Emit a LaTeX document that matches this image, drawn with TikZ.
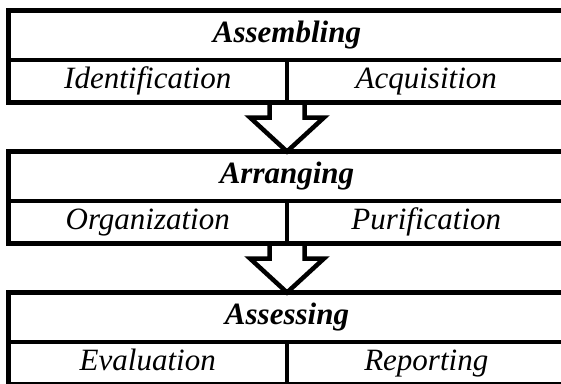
\documentclass[tikz,border=0pt]{standalone}
\usepackage{fontspec}
\setmainfont{Liberation Serif}
\usepackage{tikz}
\usetikzlibrary{positioning,calc}

\begin{document}
\begin{tikzpicture}[x=1pt, y=1pt, line width=4.5pt]
	\tikzset{
		headbox/.style={
			shape=rectangle,
			draw=black,
			outer sep=0pt,
			inner sep=0pt,
			text height=20.5pt,
			text depth=6.5pt,
			minimum width=557pt,
			minimum height=49.5pt,
			font=\fontsize{31}{36}\selectfont\bfseries\itshape
		},
		cellbox/.style={
			shape=rectangle,
			draw=black,
			outer sep=0pt,
			inner sep=0pt,
			text height=20.5pt,
			text depth=6.5pt,
			minimum width=278.5pt,
			minimum height=42.5pt,
			font=\fontsize{31}{36}\selectfont\itshape
		},
		hollowarrow/.style={draw=black, line width=4.5pt, line join=miter}
	}
	\useasboundingbox (0,0) rectangle (561,-383);
	
	% first block
	\node[headbox, anchor=north west] (asm) at (8.5,-10.5) {Assembling};
	\node[cellbox, below=0pt of asm.south west, anchor=north west] (idf) {Identification};
	\node[cellbox, below=0pt of asm.south east, anchor=north east] (acq) {Acquisition};
	
	% second block
	\node[headbox, below=49pt of idf.south west, anchor=north west] (arrg) {Arranging};
	\node[cellbox, below=0pt of arrg.south west, anchor=north west] (org) {Organization};
	\node[cellbox, below=0pt of arrg.south east, anchor=north east] (pur) {Purification};
	
	% third block
	\node[headbox, below=49pt of org.south west, anchor=north west] (asse) {Assessing};
	\node[cellbox, below=0pt of asse.south west, anchor=north west] (eva) {Evaluation};
	\node[cellbox, below=0pt of asse.south east, anchor=north east] (rep) {Reporting};
	
	% hollow arrows between the blocks
	\foreach \a/\b in {idf/arrg, org/asse}
		\draw[hollowarrow] ($(\a.south east)+(-17.5,0)$) -- ++(0,-15) -- ++(-19.5,0)
			-- (\b.north) -- ($(\a.south east)+(37,-15)$) -- ++(-19.5,0) -- ++(0,15);
\end{tikzpicture}
\end{document}
